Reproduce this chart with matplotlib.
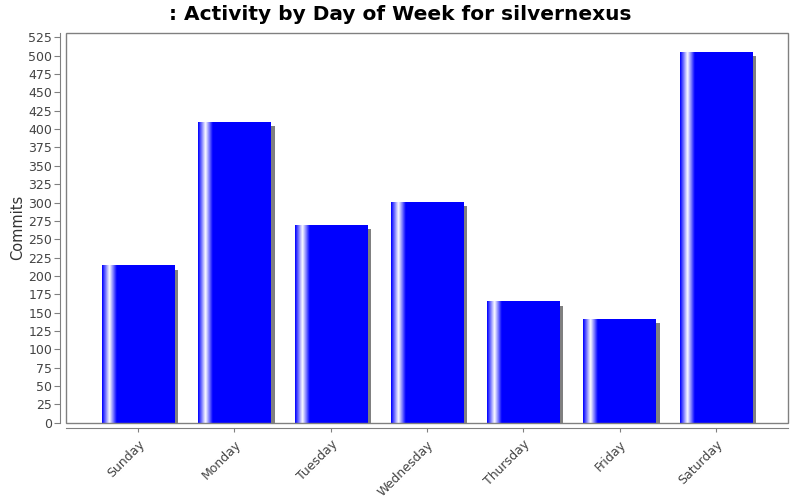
import numpy as np
import matplotlib
matplotlib.use("Agg")
import matplotlib.pyplot as plt
import matplotlib.transforms as mtransforms
from matplotlib.colors import LinearSegmentedColormap
from matplotlib.patches import Rectangle

# -------------------------------------
# Data
# -------------------------------------
days = ["Sunday", "Monday", "Tuesday", "Wednesday", "Thursday", "Friday", "Saturday"]
commits = [214, 410, 269, 301, 165, 141, 505]
yticks = list(range(0, 526, 25))

# JFreeChart-like gradient: blue -> white -> blue over the left 20% of each bar
bar_cmap = LinearSegmentedColormap.from_list(
    "jfree", [(0.0, "#0000ff"), (0.10, "#ffffff"), (0.20, "#0000ff"), (1.0, "#0000ff")])
gradient = np.linspace(0, 1, 200).reshape(1, -1)

fig = plt.figure(figsize=(8, 5), dpi=100)
ax = fig.add_axes([66 / 800, 1 - 422.7 / 500, 722 / 800, (422.7 - 33) / 500])

x = np.arange(len(days))
width = 0.75

# shadows, shifted 4px right and 4px down
shadow_tr = ax.transData + mtransforms.ScaledTranslation(4 / 100, -4 / 100, fig.dpi_scale_trans)
ax.bar(x, commits, width=width, color="#808080", transform=shadow_tr, zorder=1)

bars = ax.bar(x, commits, width=width, color="#0000ff", zorder=2)
for b in bars:
    x0, w, h = b.get_x(), b.get_width(), b.get_height()
    ax.imshow(gradient, cmap=bar_cmap, aspect="auto", interpolation="bilinear",
              extent=[x0, x0 + w, 0, h], zorder=3)

ax.set_xlim(-0.75, 6.75)
ax.set_ylim(0, 531)
ax.set_xticks(x)
ax.set_xticklabels(days)
ax.set_yticks(yticks)

# plot area border, axis lines pushed out a few pixels
ax.add_patch(Rectangle((0, 0), 1, 1, transform=ax.transAxes, fill=False,
                       edgecolor="#808080", linewidth=1, zorder=5, clip_on=False))
for side in ["top", "right"]:
    ax.spines[side].set_visible(False)
for side in ["left", "bottom"]:
    ax.spines[side].set_position(("outward", 4))
    ax.spines[side].set_color("#808080")

ax.tick_params(axis="both", colors="#808080", labelcolor="#444444", labelsize=9)
ax.tick_params(axis="y", length=4, pad=2)
ax.tick_params(axis="x", length=3, pad=4, labelrotation=45)
for lbl in ax.get_xticklabels():
    lbl.set_ha("right")
    lbl.set_rotation_mode("anchor")

ax.set_ylabel("Commits", fontsize=10.5, color="#333333", labelpad=2)
fig.suptitle(": Activity by Day of Week for silvernexus", fontsize=14.5, fontweight="bold", y=0.99)

fig.savefig("out.png", dpi=100)
